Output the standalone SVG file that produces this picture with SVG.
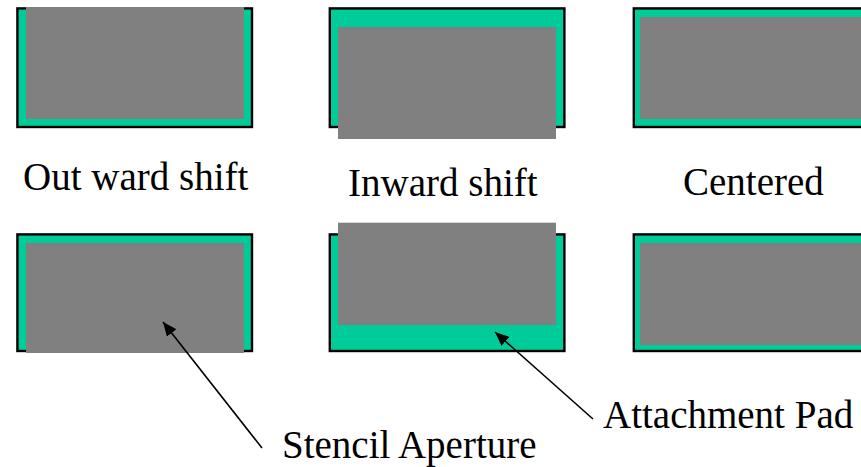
<svg xmlns="http://www.w3.org/2000/svg" width="861" height="467" viewBox="0 0 861 467">
  <style>
    .pad { fill: #00CC99; stroke: #000000; stroke-width: 2.4; }
    .ap { fill: #808080; }
    .lbl { font-family: "Liberation Serif", "Times New Roman", serif; font-size: 39px; fill: #000000; }
    .conn { stroke: #000000; stroke-width: 1.6; fill: none; }
  </style>
  <defs>
    <marker id="ah" markerUnits="userSpaceOnUse" markerWidth="16" markerHeight="12" refX="14" refY="6" orient="auto">
      <path d="M0,0 L14,6 L0,12 Z" fill="#000000"/>
    </marker>
  </defs>
  <rect width="861" height="467" fill="#ffffff"/>

  <g id="outward-top">
    <rect class="pad" x="17.4" y="8.4" width="234.6" height="118.6"/>
    <rect class="ap" x="26" y="7" width="218" height="112"/>
  </g>
  <g id="inward-top">
    <rect class="pad" x="329.8" y="8.4" width="234.6" height="118.6"/>
    <rect class="ap" x="338" y="27" width="218" height="112"/>
  </g>
  <g id="centered-top">
    <rect class="pad" x="633.8" y="8.4" width="234.6" height="118.6"/>
    <rect class="ap" x="640" y="17" width="221" height="102"/>
  </g>

  <g id="outward-bottom">
    <rect class="pad" x="17.4" y="234.4" width="234.6" height="116.6"/>
    <rect class="ap" x="26" y="243" width="218" height="110"/>
  </g>
  <g id="inward-bottom">
    <rect class="pad" x="329.8" y="234.4" width="234.6" height="116.6"/>
    <rect class="ap" x="338" y="222.7" width="218" height="102.3"/>
  </g>
  <g id="centered-bottom">
    <rect class="pad" x="633.8" y="234.4" width="234.6" height="116.6"/>
    <rect class="ap" x="640" y="243" width="221" height="102"/>
  </g>

  <g id="labels">
    <text class="lbl" x="23" y="190">Out ward shift</text>
    <text class="lbl" x="348" y="196">Inward shift</text>
    <text class="lbl" x="683" y="195">Centered</text>
    <text class="lbl" x="282" y="458">Stencil Aperture</text>
    <text class="lbl" x="603" y="428">Attachment Pad</text>
  </g>

  <g id="connectors">
    <line class="conn" x1="262" y1="448" x2="163" y2="322" marker-end="url(#ah)"/>
    <line class="conn" x1="593" y1="419" x2="495" y2="332" marker-end="url(#ah)"/>
  </g>
</svg>
